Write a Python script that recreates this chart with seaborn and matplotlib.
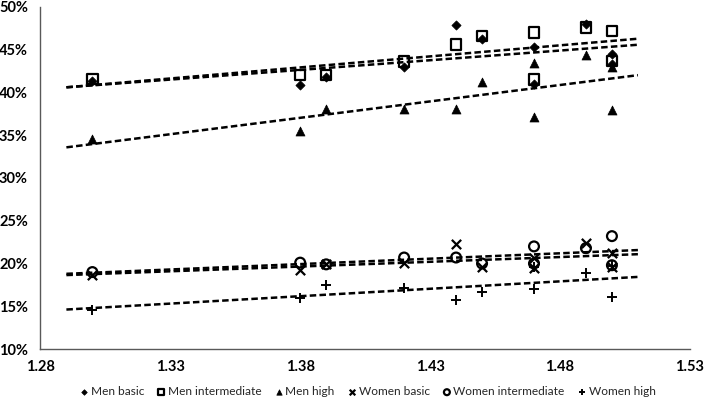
import numpy as np
import pandas as pd
import matplotlib
matplotlib.use("Agg")
import matplotlib.pyplot as plt
from matplotlib.ticker import PercentFormatter
import seaborn as sns

# x value for each country (shared by all six series)
x_vals = [1.30, 1.38, 1.39, 1.42, 1.44, 1.45, 1.47, 1.47, 1.49, 1.50, 1.50]

# shares in percent
men_basic = [41.3, 40.9, 41.8, 43.0, 47.9, 46.2, 45.3, 41.0, 48.0, 44.5, 43.3]
men_intermediate = [41.6, 42.0, 42.0, 43.6, 45.6, 46.6, 47.0, 41.5, 47.6, 47.2, 43.7]
men_high = [34.6, 35.5, 38.1, 38.1, 38.1, 41.2, 43.4, 37.1, 44.4, 43.0, 38.0]
women_basic = [18.6, 19.2, 20.0, 20.1, 22.3, 19.6, 20.6, 19.5, 22.4, 21.2, 19.6]
women_intermediate = [19.0, 20.1, 19.9, 20.7, 20.7, 20.0, 22.0, 20.0, 21.8, 23.2, 19.8]
women_high = [14.6, 16.0, 17.5, 17.1, 15.7, 16.7, 17.0, 19.6, 18.9, 16.1, 19.7]

series_names = ["Men basic", "Men intermediate", "Men high",
                "Women basic", "Women intermediate", "Women high"]
series_values = [men_basic, men_intermediate, men_high,
                 women_basic, women_intermediate, women_high]

x_ticks = [1.28, 1.33, 1.38, 1.43, 1.48, 1.53]
y_ticks = [10, 15, 20, 25, 30, 35, 40, 45, 50]

# marker styles per series
marker_kws = {
    "Men basic": dict(marker="D", s=22, color="black", edgecolor="black", linewidth=0.5),
    "Men intermediate": dict(marker="s", s=55, facecolor="none", edgecolor="black", linewidth=1.6),
    "Men high": dict(marker="^", s=42, color="black", edgecolor="black", linewidth=0.5),
    "Women basic": dict(marker="x", s=45, color="black", linewidth=1.6),
    "Women intermediate": dict(marker="o", s=50, facecolor="none", edgecolor="black", linewidth=1.6),
    "Women high": dict(marker="+", s=60, color="black", linewidth=1.4),
}

sns.set_style("white")
plt.rcParams["font.family"] = ["Lato", "DejaVu Sans"]

fig, ax = plt.subplots(figsize=(7.09, 4.04), dpi=100)
fig.subplots_adjust(left=0.057, right=0.973, top=0.983, bottom=0.136)

# trendlines span one step beyond the data, like a spreadsheet forecast
ax.set_xlim(1.29, 1.51)
for name, vals in zip(series_names, series_values):
    df = pd.DataFrame({"x": x_vals, "y": vals})
    sns.regplot(data=df, x="x", y="y", ax=ax, scatter=False, ci=None,
                truncate=False, color="black",
                line_kws=dict(linewidth=1.8, linestyle=(0, (2.6, 1.3))))

for name, vals in zip(series_names, series_values):
    df = pd.DataFrame({"x": x_vals, "y": vals})
    sns.scatterplot(data=df, x="x", y="y", ax=ax, label=name,
                    zorder=3, **marker_kws[name])

ax.set_xlim(1.28, 1.53)
ax.set_ylim(10, 50)
ax.set_xticks(x_ticks)
ax.set_xticklabels([f"{t:.2f}" for t in x_ticks])
ax.set_yticks(y_ticks)
ax.yaxis.set_major_formatter(PercentFormatter(decimals=0))
ax.set_xlabel("")
ax.set_ylabel("")
ax.tick_params(axis="both", length=0, labelsize=10.5, colors="black")
ax.tick_params(axis="x", pad=8)
ax.tick_params(axis="y", pad=9)
for lab in ax.get_xticklabels() + ax.get_yticklabels():
    lab.set_fontweight("bold")

for side in ["top", "right"]:
    ax.spines[side].set_visible(False)
for side in ["left", "bottom"]:
    ax.spines[side].set_color("#595959")
    ax.spines[side].set_linewidth(1.0)

ax.legend(ncol=6, loc="center", bbox_to_anchor=(0.503, -0.125), frameon=False,
          fontsize=8.6, markerscale=0.6, handletextpad=0.1, columnspacing=1.0,
          handlelength=0.9)

fig.savefig("out.png", dpi=100)
